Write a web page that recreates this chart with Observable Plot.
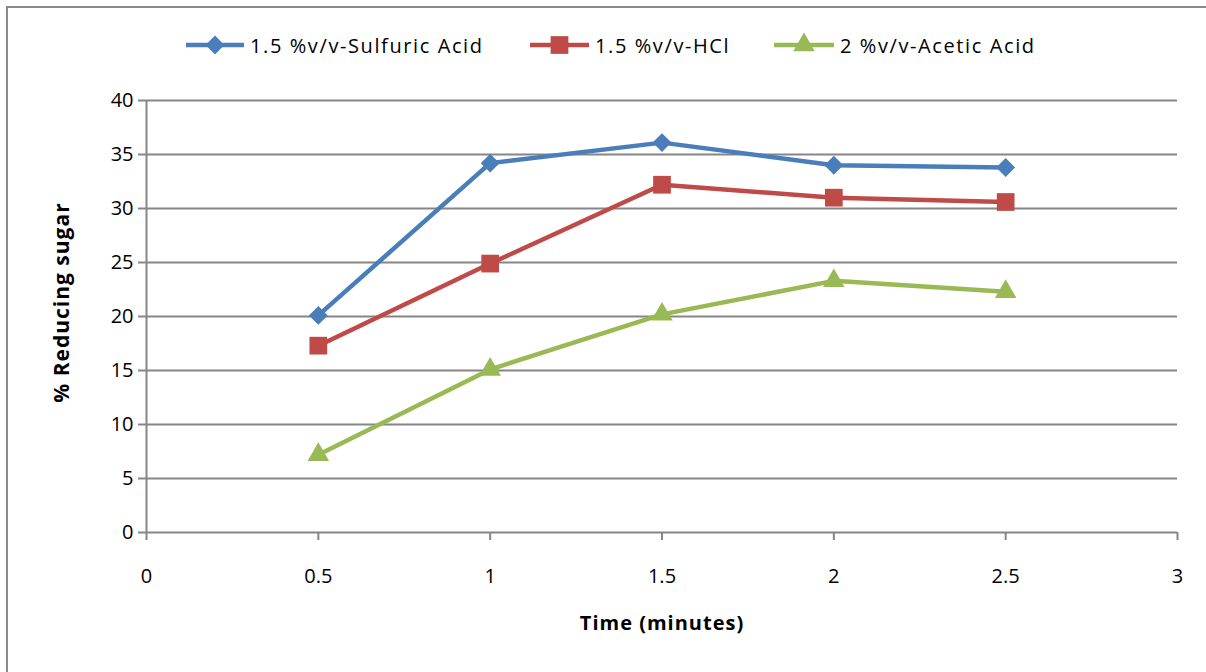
<!DOCTYPE html>
<html>
<head>
<meta charset="utf-8">
<script src="https://cdn.jsdelivr.net/npm/d3@7"></script>
<script src="https://cdn.jsdelivr.net/npm/@observablehq/plot@0.6"></script>
<style>
  html, body { margin: 0; padding: 0; background: #fff; }
  #wrap { position: relative; width: 1206px; height: 672px; overflow: hidden; font-family: "Open Sans", "Liberation Sans", sans-serif; }
  #border { position: absolute; left: 6px; top: 6px; width: 1210px; height: 700px; border-left: 2px solid #8c8c8c; border-top: 2px solid #8c8c8c; box-sizing: border-box; }
  #chart { position: absolute; left: 0; top: 0; }
  #chart g[aria-label="y-axis tick"] path, #chart g[aria-label="x-axis tick"] path { stroke: #868686; stroke-width: 2; }
  #chart g[aria-label="text"] text { letter-spacing: 1px; }
  .leg { position: absolute; top: 30px; height: 30px; display: flex; align-items: center; font-size: 20px; letter-spacing: 1.6px; color: #000; white-space: nowrap; }
  .leg svg { margin-right: 6px; }
</style>
</head>
<body>
<div id="wrap">
  <div id="border"></div>
  <div id="chart"></div>
  <div id="legend"></div>
</div>
<script>
const times = [0.5, 1, 1.5, 2, 2.5];
const seriesNames = ["1.5 %v/v-Sulfuric Acid", "1.5 %v/v-HCl", "2 %v/v-Acetic Acid"];
const sulfuric = [20.1, 34.2, 36.1, 34.0, 33.8];
const hcl = [17.3, 24.9, 32.2, 31.0, 30.6];
const acetic = [7.2, 15.1, 20.2, 23.3, 22.3];
const xTicks = [0, 0.5, 1, 1.5, 2, 2.5, 3];
const yTicks = [0, 5, 10, 15, 20, 25, 30, 35, 40];
const colors = ["#4A7EBB", "#BE4B48", "#98B954"];
const symbols = ["diamond2", "square", "triangle"];
const radii = [8.5, 10, 8];

const valuesBySeries = [sulfuric, hcl, acetic];
const data = [];
seriesNames.forEach((s, i) => times.forEach((t, j) => data.push({series: s, time: t, value: valuesBySeries[i][j]})));

const marks = [
  Plot.ruleY(yTicks, {stroke: "#868686", strokeWidth: 2}),
  Plot.ruleX([0], {stroke: "#868686", strokeWidth: 2}),
];
seriesNames.forEach((s, i) => {
  const d = data.filter(r => r.series === s);
  marks.push(Plot.line(d, {x: "time", y: "value", stroke: colors[i], strokeWidth: 4.5, strokeLinejoin: "round"}));
});
seriesNames.forEach((s, i) => {
  const d = data.filter(r => r.series === s);
  marks.push(Plot.dot(d, {x: "time", y: "value", fill: colors[i], symbol: () => symbols[i], r: radii[i], stroke: null}));
});
marks.push(Plot.text(["Time (minutes)"], {frameAnchor: "bottom", textAnchor: "middle", dy: 97, fontWeight: "bold", fontSize: 20, text: d => d}));
marks.push(Plot.text(["% Reducing sugar"], {frameAnchor: "left", textAnchor: "middle", dx: -84, dy: -14, rotate: -90, fontWeight: "bold", fontSize: 21, text: d => d}));

const chart = Plot.plot({
  width: 1206,
  height: 672,
  marginTop: 100,
  marginBottom: 140,
  marginLeft: 146,
  marginRight: 29,
  style: {fontFamily: "'Open Sans', 'Liberation Sans', sans-serif", fontSize: "20px", color: "#000", background: "transparent", overflow: "visible"},
  x: {domain: [0, 3], ticks: xTicks, tickFormat: d => String(d), tickSize: 8, tickPadding: 28, label: null},
  y: {domain: [0, 40], ticks: yTicks, tickFormat: d => String(d), tickSize: 8, tickPadding: 5, label: null},
  marks
});
document.getElementById("chart").appendChild(chart);
// Legend
const legendPos = [{line: 186, text: 250}, {line: 530, text: 595}, {line: 774, text: 840}];
const legend = document.getElementById("legend");
const symMap = {diamond2: d3.symbolDiamond2, square: d3.symbolSquare, triangle: d3.symbolTriangle};
seriesNames.forEach((s, i) => {
  const div = document.createElement("div");
  div.className = "leg";
  div.style.left = legendPos[i].line + "px";
  const w = legendPos[i].text - legendPos[i].line - 6;
  const sw = d3.create("svg").attr("width", w).attr("height", 30);
  sw.append("line").attr("x1", 0).attr("x2", w).attr("y1", 15).attr("y2", 15).attr("stroke", colors[i]).attr("stroke-width", 4.5);
  sw.append("path").attr("transform", `translate(${w/2},15)`).attr("d", d3.symbol(symMap[symbols[i]], Math.PI * radii[i] * radii[i])()).attr("fill", colors[i]);
  div.appendChild(sw.node());
  const span = document.createElement("span");
  span.textContent = s;
  div.appendChild(span);
  legend.appendChild(div);
});
</script>
</body>
</html>
